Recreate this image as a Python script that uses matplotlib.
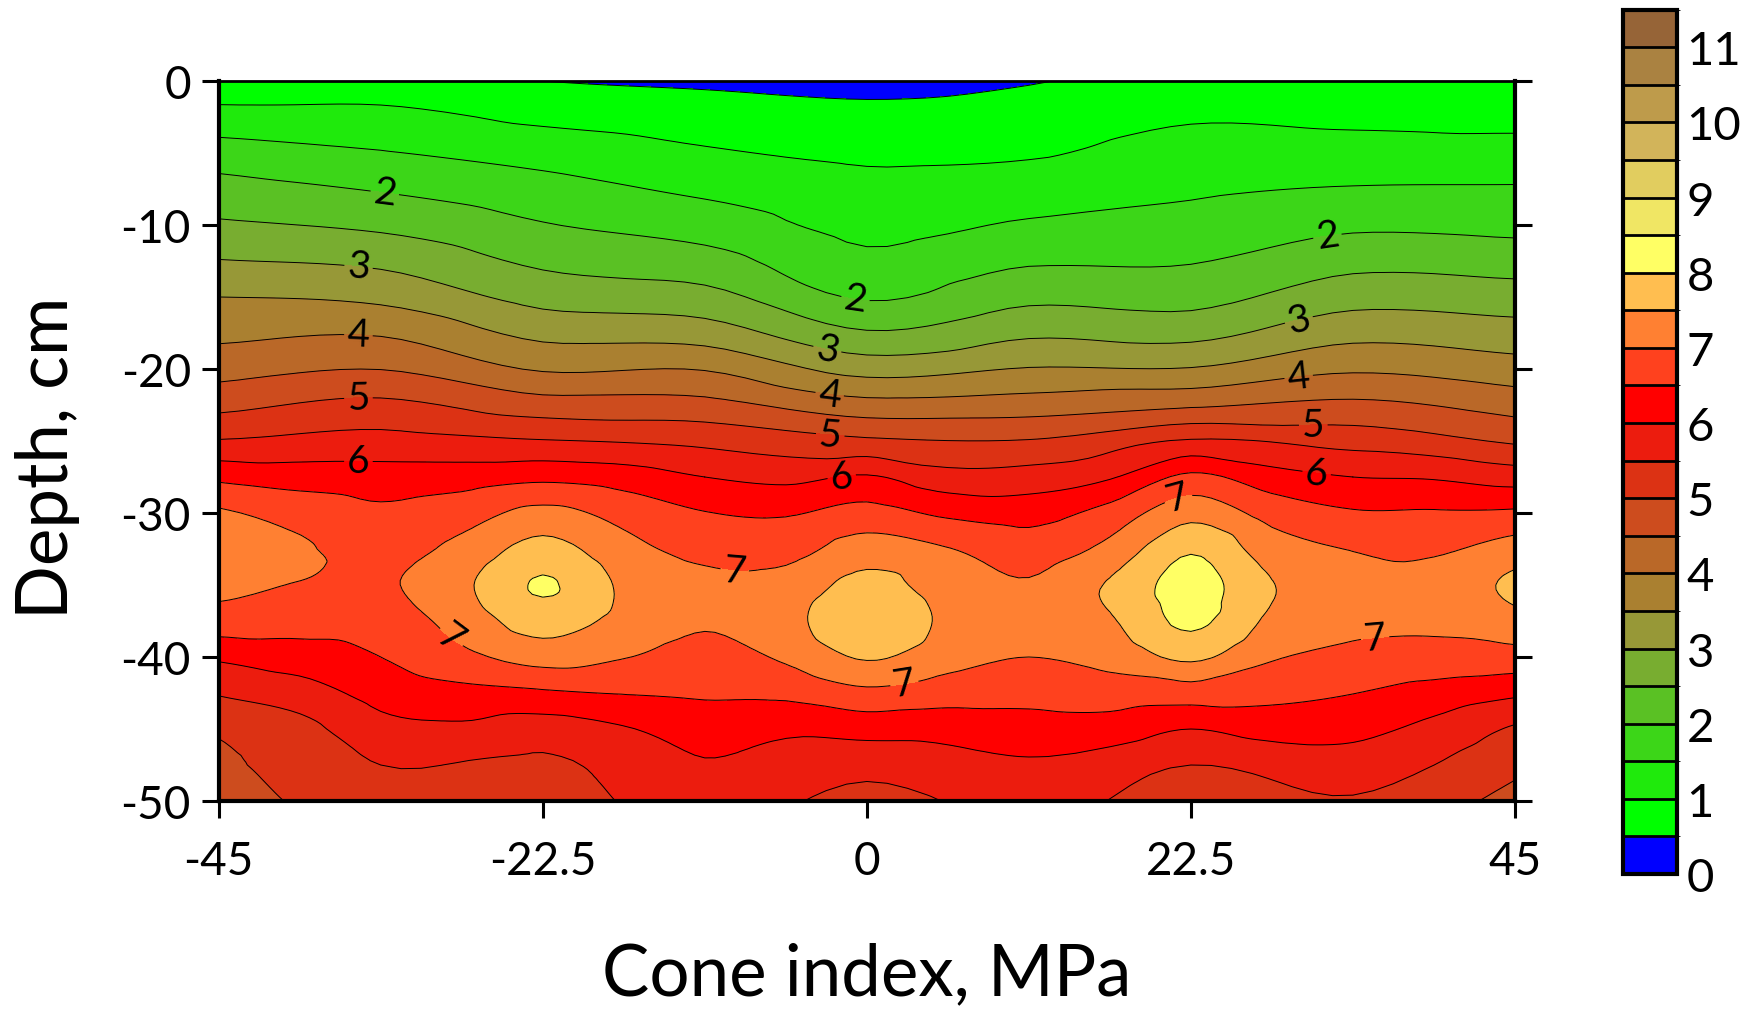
import numpy as np
import matplotlib
matplotlib.use("Agg")
import matplotlib.pyplot as plt
import matplotlib.tri as mtri
from matplotlib.colors import ListedColormap, BoundaryNorm

plt.rcParams['font.family'] = ['Lato', 'DejaVu Sans']
plt.rcParams['axes.unicode_minus'] = False

# profile columns (cm across the row) and sampled depths
x_pos = [-45, -33.75, -22.5, -11.25, 0, 11.25, 22.5, 33.75, 45]
depth = [0, -2.5, -5, -7.5, -10, -12.5, -15, -17.5, -20, -22.5, -25,
         -27.5, -30, -32.5, -35, -37.5, -40, -42.5, -45, -47.5, -50]

# cone index (MPa) down each column, top to bottom
ci_m45 = [0.65, 1.18, 1.74, 2.18, 2.57, 3.02, 3.50, 3.88, 4.31, 4.86, 5.53,
          6.39, 7.07, 7.28, 7.14, 6.78, 6.08, 5.54, 5.07, 4.89, 4.75]
ci_m34 = [0.65, 1.16, 1.53, 1.96, 2.40, 2.89, 3.38, 3.95, 4.49, 5.12, 5.68,
          6.22, 6.60, 6.80, 6.93, 6.72, 6.50, 6.18, 5.84, 5.50, 5.30]
ci_m22 = [0.50, 0.89, 1.31, 1.69, 2.03, 2.40, 2.83, 3.36, 3.95, 4.72, 5.53,
          6.38, 7.14, 7.69, 8.05, 7.73, 7.20, 6.43, 5.75, 5.40, 5.20]
ci_m11 = [0.42, 0.75, 1.06, 1.40, 1.77, 2.19, 2.67, 3.25, 3.97, 4.66, 5.37,
          6.00, 6.52, 6.85, 7.12, 7.05, 6.81, 6.56, 6.22, 5.96, 5.85]
ci_0 = [0.35, 0.64, 0.91, 1.14, 1.35, 1.61, 1.95, 2.55, 3.31, 4.18, 5.08,
        6.05, 6.68, 7.23, 7.67, 7.93, 7.55, 6.88, 6.18, 5.67, 5.30]
ci_p11 = [0.47, 0.72, 0.95, 1.24, 1.56, 1.94, 2.38, 2.91, 3.53, 4.24, 5.03,
          5.71, 6.30, 6.74, 7.05, 7.20, 7.00, 6.66, 6.29, 5.93, 5.75]
ci_p22 = [0.70, 0.95, 1.20, 1.42, 1.68, 1.97, 2.32, 2.84, 3.53, 4.43, 5.55,
          6.61, 7.32, 7.94, 8.20, 8.10, 7.60, 6.75, 6.00, 5.50, 5.20]
ci_p34 = [0.70, 0.90, 1.20, 1.53, 1.91, 2.34, 2.81, 3.34, 3.93, 4.61, 5.31,
          6.00, 6.55, 6.98, 7.15, 7.12, 6.87, 6.51, 6.14, 5.77, 5.45]
ci_p45 = [0.70, 0.85, 1.21, 1.54, 1.86, 2.27, 2.74, 3.21, 3.72, 4.30, 4.93,
          5.77, 6.58, 7.23, 7.60, 7.35, 6.80, 6.09, 5.44, 5.12, 4.85]

# extra readings between the columns, through the compacted layer
x_mid = [-39.375, -28.125, -16.875, -5.625, 5.625, 16.875, 28.125, 39.375]
depth_mid = [-27.5, -30, -32.5, -35, -37.5, -40, -42.5, -45]
mid_m39 = [6.26, 6.82, 7.06, 6.98, 6.70, 6.27, 5.76, 5.34]
mid_m28 = [6.26, 6.79, 7.14, 7.40, 7.20, 6.87, 6.35, 5.91]
mid_m17 = [6.25, 6.83, 7.16, 7.42, 7.35, 7.02, 6.52, 5.96]
mid_m6 = [5.86, 6.45, 6.82, 7.18, 7.33, 7.08, 6.61, 6.10]
mid_p6 = [5.68, 6.40, 7.02, 7.25, 7.40, 7.20, 6.72, 6.19]
mid_p17 = [5.95, 6.69, 7.14, 7.55, 7.45, 7.17, 6.75, 6.26]
mid_p28 = [6.20, 6.81, 7.23, 7.52, 7.40, 7.05, 6.65, 6.18]
mid_p39 = [5.95, 6.55, 6.92, 7.20, 7.10, 6.82, 6.30, 5.85]

band_colors = ['#0000ff', '#00ff00', '#1fea0c', '#3cd618', '#5ac124', '#78ad30',
               '#979837', '#aa8030', '#ba6828', '#cd4c1e', '#dc3214', '#ec1c0e',
               '#ff0000', '#ff411e', '#ff8032', '#ffbe50', '#ffff64', '#f0e664',
               '#e1cd5f', '#d2b45a', '#be9b4b', '#aa8241', '#966437']
levels = np.arange(0, 12, 0.5)
label_levels = [2, 3, 4, 5, 6, 7]

# label anchor points (x, depth)
label_pts = [(-33.5, -8.0), (-35.3, -13.0), (-35.3, -17.7), (-35.3, -22.0),
             (-35.3, -26.3), (-28.9, -38.7),
             (-0.8, -15.2), (-2.9, -19.5), (-2.7, -22.8), (-2.6, -25.3),
             (-1.7, -27.8), (-9.2, -34.2), (2.6, -41.8),
             (32.0, -10.9), (30.0, -16.6), (30.0, -20.7), (31.0, -24.0),
             (31.2, -27.5), (21.8, -29.5), (35.3, -38.8)]

main_cols = [ci_m45, ci_m34, ci_m22, ci_m11, ci_0, ci_p11, ci_p22, ci_p34, ci_p45]
mid_cols = [mid_m39, mid_m28, mid_m17, mid_m6, mid_p6, mid_p17, mid_p28, mid_p39]

px, py, pz = [], [], []
for xv, col in zip(x_pos, main_cols):
    px += [xv] * len(depth)
    py += depth
    pz += col
for xv, col in zip(x_mid, mid_cols):
    px += [xv] * len(depth_mid)
    py += depth_mid
    pz += col
px, py, pz = np.array(px), np.array(py), np.array(pz)

# triangulate in grid units so the cells are not squashed, then refine
base = mtri.Triangulation(px / 11.25, py / 2.5)
tri = mtri.Triangulation(px, py, base.triangles)
interp = mtri.CubicTriInterpolator(tri, pz, kind='geom')
refiner = mtri.UniformTriRefiner(tri)
tri_f, z_f = refiner.refine_field(pz, triinterpolator=interp, subdiv=3)

cmap = ListedColormap(band_colors)
norm = BoundaryNorm(levels, cmap.N)

fig = plt.figure(figsize=(17.64, 10.12), dpi=100)
ax = fig.add_axes([0.124, 0.2075, 0.7348, 0.7115])

cf = ax.tricontourf(tri_f, z_f, levels=levels, cmap=cmap, norm=norm)
plain = [lv for lv in levels[1:-1] if lv not in label_levels]
ax.tricontour(tri_f, z_f, levels=plain, colors='k', linewidths=0.7)
cl = ax.tricontour(tri_f, z_f, levels=label_levels, colors='k', linewidths=0.7)
ax.clabel(cl, manual=label_pts, fmt='%d', fontsize=28, inline=True,
          inline_spacing=3, colors='k')

ax.set_xlim(-45, 45)
ax.set_ylim(-50, 0)
ax.set_xticks([-45, -22.5, 0, 22.5, 45])
ax.set_xticklabels(['-45', '-22.5', '0', '22.5', '45'])
ax.set_yticks([0, -10, -20, -30, -40, -50])
ax.tick_params(axis='x', direction='out', length=12, width=2.2, pad=16,
               labelsize=33, top=False)
ax.tick_params(axis='y', direction='out', length=12, width=2.2, pad=8,
               labelsize=33, right=True)
for side in ['left', 'bottom', 'right']:
    ax.spines[side].set_linewidth(3)
ax.spines['top'].set_linewidth(2)

ax.set_xlabel('Cone index, MPa', fontsize=51, labelpad=43)
ax.set_ylabel('Depth, cm', fontsize=51)
ax.yaxis.set_label_coords(-0.107, 0.478)

cax = fig.add_axes([0.920, 0.1354, 0.0306, 0.854])
cb = fig.colorbar(cf, cax=cax, ticks=range(12), drawedges=True)
cb.outline.set_linewidth(3)
cb.dividers.set_color('k')
cb.dividers.set_linewidth(2)
cb.ax.tick_params(length=0, labelsize=34, pad=7)

fig.savefig('out.png', dpi=100)
